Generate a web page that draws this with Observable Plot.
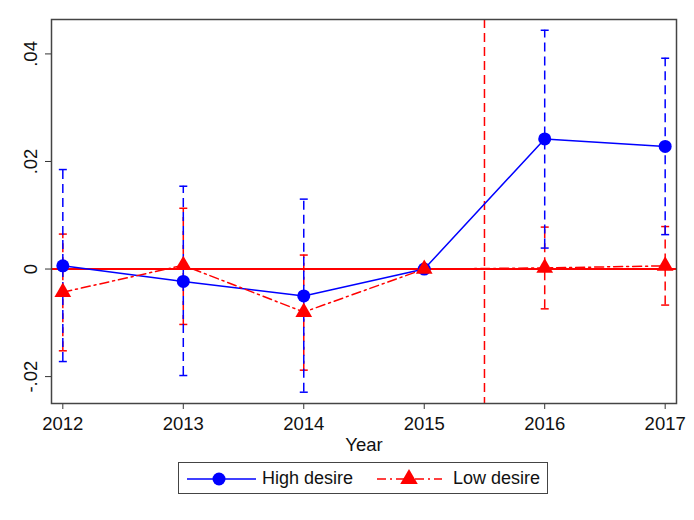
<!DOCTYPE html>
<html><head><meta charset="utf-8">
<script src="https://cdn.jsdelivr.net/npm/d3@7"></script>
<script src="https://cdn.jsdelivr.net/npm/@observablehq/plot@0.6"></script>
<style>
body{margin:0;background:#fff;font-family:"Liberation Sans",Arial,sans-serif;}
#wrap{position:relative;width:694px;height:520px;}
#legend{position:absolute;left:178px;top:462px;width:368px;height:30px;border:1px solid #444;box-sizing:content-box;display:flex;align-items:center;font-size:18px;color:#111;}
#legend span{white-space:nowrap;}
#legend svg{flex:none;}
</style></head><body><div id="wrap"></div>
<script>
const years=[2012,2013,2014,2015,2016,2017];
const highEst=[0.0006,-0.0023,-0.0050,0,0.0242,0.0228];
const highLo=[-0.0172,-0.0198,-0.0229,null,0.0039,0.0064];
const highHi=[0.0185,0.0154,0.0130,null,0.0444,0.0392];
const lowEst=[-0.0043,0.0007,-0.0080,0,0.0002,0.0006];
const lowLo=[-0.0152,-0.0103,-0.0188,null,-0.0074,-0.0067];
const lowHi=[0.0065,0.0113,0.0026,null,0.0078,0.0079];
const yTicks=[-0.02,0,0.02,0.04];
const treatYear=[2015.5];
const seriesNames=["High desire","Low desire"];

const BLUE="#0000ff", RED="#ff0000";
const high=years.map((y,i)=>({year:y,est:highEst[i],lo:highLo[i],hi:highHi[i]}));
const low=years.map((y,i)=>({year:y,est:lowEst[i],lo:lowLo[i],hi:lowHi[i]}));
const ciHigh=high.filter(d=>d.lo!=null);
const ciLow=low.filter(d=>d.lo!=null);
const cap={draw(ctx,size){const r=Math.sqrt(size/Math.PI);ctx.moveTo(-r,0);ctx.lineTo(r,0);}};
const fmt=d=>d===0?"0":String(d).replace("0.",".");

function ci(data,color){
  return [
    Plot.ruleX(data,{x:"year",y1:"lo",y2:"hi",stroke:color,strokeWidth:1.5,strokeDasharray:"9,5"}),
    Plot.dot(data,{x:"year",y:"lo",symbol:cap,r:4,stroke:color,strokeWidth:1.5,fill:"none"}),
    Plot.dot(data,{x:"year",y:"hi",symbol:cap,r:4,stroke:color,strokeWidth:1.5,fill:"none"})
  ];
}

const chart=Plot.plot({
  width:694,height:456,
  marginLeft:51,marginRight:18,marginTop:19,marginBottom:53,
  style:{fontFamily:"Liberation Sans, Arial, sans-serif",fontSize:"18.5px",color:"#111",background:"#fff"},
  x:{domain:[2011.906,2017.094]},
  y:{domain:[-0.025,0.0464]},
  marks:[
    Plot.axisX({ticks:years,tickFormat:"d",tickSize:6,tickPadding:7,stroke:"#333",label:"Year",labelAnchor:"center",labelArrow:"none",labelOffset:47,fontSize:18.5}),
    Plot.axisY({ticks:yTicks,tickFormat:fmt,tickSize:6,tickRotate:-90,tickPadding:9,stroke:"#333",label:null,fontSize:18.5}),
    ...ci(ciLow,RED),
    ...ci(ciHigh,BLUE),
    Plot.ruleY([0],{stroke:RED,strokeWidth:2}),
    Plot.ruleX(treatYear,{stroke:RED,strokeWidth:1.5,strokeDasharray:"9,5"}),
    Plot.line(high,{x:"year",y:"est",stroke:BLUE,strokeWidth:1.5}),
    Plot.line(low,{x:"year",y:"est",stroke:RED,strokeWidth:1.5,strokeDasharray:"9,4,2,4"}),
    Plot.dot(high,{x:"year",y:"est",r:6.5,fill:BLUE,stroke:"none"}),
    Plot.dot(low,{x:"year",y:"est",symbol:"triangle",r:6.2,fill:RED,stroke:"none"}),
    Plot.frame({stroke:"#444",strokeWidth:1.5})
  ]
});
const wrap=document.getElementById("wrap");
wrap.appendChild(chart);

const lg=document.createElement("div");
lg.id="legend";
lg.innerHTML=`
<svg width="72" height="30" style="margin-left:7px"><line x1="1" x2="70" y1="16" y2="16" stroke="${BLUE}" stroke-width="1.5"/><circle cx="33" cy="16" r="6.5" fill="${BLUE}"/></svg>
<span style="margin-left:4px">${seriesNames[0]}</span>
<svg width="66" height="30" style="margin-left:24px"><line x1="0" x2="65" y1="16" y2="16" stroke="${RED}" stroke-width="1.5" stroke-dasharray="9,4,2,4"/><path d="${d3.symbol(d3.symbolTriangle,Math.PI*6.5*6.5)()}" transform="translate(32,16)" fill="${RED}"/></svg>
<span style="margin-left:10px">${seriesNames[1]}</span>`;
wrap.appendChild(lg);
</script></body></html>
